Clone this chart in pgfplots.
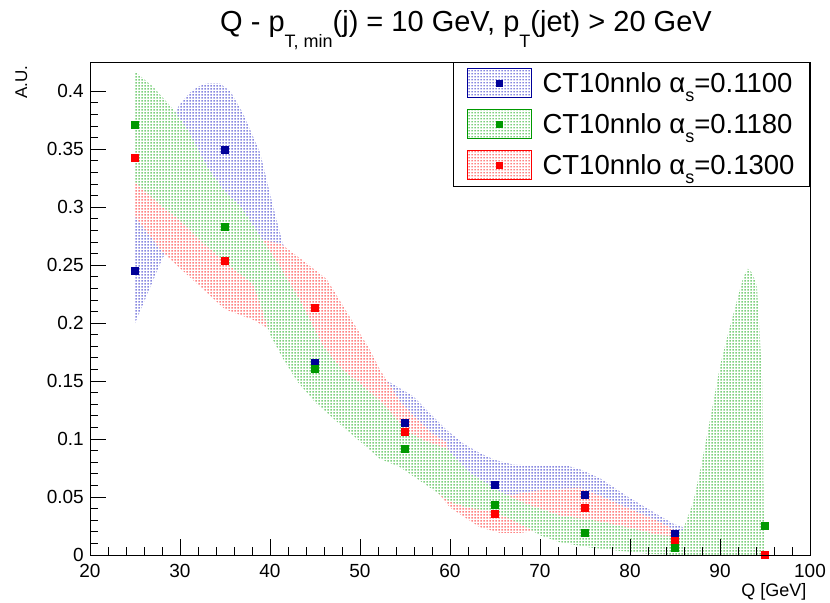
\documentclass[border=0pt]{standalone}
\usepackage{fontspec}
\setmainfont{Liberation Sans}
\usepackage{pgfplots}
\pgfplotsset{compat=1.18}
\usetikzlibrary{patterns}
\definecolor{cblue}{RGB}{0,0,153}
\definecolor{cgreen}{RGB}{0,153,0}
\definecolor{cred}{RGB}{255,0,0}
\definecolor{dblue}{RGB}{40,40,200}
\definecolor{dgreen}{RGB}{20,170,20}
\definecolor{dred}{RGB}{255,30,30}
\pgfdeclarepatternformonly{rootdots}{\pgfqpoint{0bp}{0bp}}{\pgfqpoint{3bp}{3bp}}{\pgfqpoint{3bp}{3bp}}{%
  \pgfpathrectangle{\pgfqpoint{0.65bp}{0.65bp}}{\pgfqpoint{1.7bp}{1.7bp}}\pgfusepath{fill}}
\newcommand\sub[1]{\raisebox{-0.32em}{\fontsize{18bp}{18bp}\selectfont #1}}
\newcommand\subT[1]{\raisebox{-0.52em}{\fontsize{18bp}{18bp}\selectfont #1}}
\begin{document}
\begin{tikzpicture}
\useasboundingbox (0,0) rectangle (830bp,603bp);
\begin{axis}[
  at={(90bp,48bp)}, anchor=south west,
  width=720bp, height=492bp, scale only axis,
  xmin=20, xmax=100, ymin=0, ymax=0.4245,
  xtick={20,30,40,50,60,70,80,90,100},
  ytick={0,0.05,0.1,0.15,0.2,0.25,0.3,0.35,0.4},
  minor x tick num=4, minor y tick num=4,
  tick align=inside, xtick pos=left, ytick pos=left,
  major tick length=16bp, minor tick length=8bp,
  every tick/.style={black, line width=1bp},
  axis line style={line width=1bp},
  axis on top,
  scaled y ticks=false,
  /pgf/number format/assume math mode=true,
  yticklabel style={/pgf/number format/fixed, /pgf/number format/precision=2,
    font=\fontsize{19bp}{21bp}\selectfont, inner sep=0pt, xshift=-6bp},
  xticklabel style={font=\fontsize{19bp}{21bp}\selectfont, inner sep=0pt, yshift=-9bp},
  clip mode=individual,
  legend style={at={(1,1)}, anchor=north east, yshift=1bp, draw=black, line width=1bp,
    fill=white, inner xsep=13bp, inner ysep=6bp, row sep=11bp,
    font=\fontsize{27.5bp}{30bp}\selectfont,
    /tikz/every odd column/.append style={column sep=9bp}},
  legend cell align=left,
  band/.style={draw=none, fill=white, forget plot,
    postaction={pattern=rootdots, pattern color=#1, opacity=0.55}},
  pts/.style={only marks, mark=square*, mark size=3.5bp, color=#1, forget plot},
]
% ---- blue band (alpha_s = 0.1100)
\addplot[band=dblue] coordinates {
 (25,0.300) (27,0.340) (28.5,0.370) (30,0.389) (31.1,0.399) (32,0.404) (33,0.407)
 (34.4,0.407) (35.6,0.400) (37,0.381) (38.9,0.347) (40.3,0.302) (41.4,0.269) (43,0.24)
 (45,0.21) (48,0.18) (51,0.160) (53.3,0.149) (55.9,0.137) (57.8,0.122) (59.6,0.108)
 (61.5,0.096) (63.3,0.088) (65,0.082) (67,0.078) (70,0.077) (73,0.077) (74.4,0.074)
 (76.7,0.066) (79.6,0.051) (82.6,0.037) (84.8,0.027) (85.9,0.024) (86.3,0.018)
 (85.5,0.010) (80,0.025) (75,0.036) (70,0.045) (65,0.047) (60,0.065) (55,0.088)
 (50,0.118) (45,0.15) (41,0.21) (38,0.25) (35,0.27) (32,0.275) (30,0.27) (28.1,0.257)
 (25,0.200)};
% ---- red band (alpha_s = 0.1300)
\addplot[band=dred] coordinates {
 (25,0.37) (30,0.335) (35,0.29) (38.9,0.272) (41.1,0.269) (43.5,0.255) (46.3,0.238)
 (48.5,0.21) (51.1,0.177) (52.2,0.160) (54.4,0.133) (56,0.120) (58,0.105) (59.6,0.097)
 (60,0.085) (62,0.066) (65,0.053) (67,0.052) (68.5,0.054) (70,0.056) (72.2,0.057)
 (74.4,0.058) (76.7,0.051) (79.6,0.041) (82.6,0.031) (84.4,0.024) (85,0.020)
 (85,0.007) (80,0.014) (75,0.021) (72,0.024) (67.8,0.019) (65.6,0.019) (63.3,0.024)
 (60,0.041) (58,0.060) (55,0.085) (50,0.122) (45,0.160) (41,0.190) (38.1,0.203)
 (35,0.212) (28.1,0.261) (25,0.292)};
% ---- green band (alpha_s = 0.1180)
\addplot[band=dgreen] coordinates {
 (25,0.417) (27,0.404) (29.2,0.385) (31,0.365) (33,0.335) (35,0.313) (36.7,0.301)
 (38.9,0.275) (41,0.250) (43.3,0.220) (45.9,0.180) (48,0.160) (50,0.148) (52.2,0.133)
 (54,0.118) (55,0.108) (57,0.099) (59.6,0.092) (62,0.072) (65,0.057) (67,0.049)
 (68.5,0.044) (72.2,0.034) (75.9,0.030) (79.6,0.024) (83.3,0.017) (85,0.016)
 (85.9,0.022) (87,0.045) (87.8,0.073) (88.9,0.117) (90,0.163) (91.1,0.197)
 (91.9,0.220) (92.6,0.240) (93.1,0.247) (93.6,0.243) (94.1,0.232) (94.4,0.192)
 (94.7,0.149) (94.8,0.090) (94.9,0.004)
 (94.9,0) (85,0) (82,0.001) (79.6,0.003) (75.9,0.006) (72.2,0.011) (70,0.017)
 (68.5,0.024) (67,0.030) (65,0.037) (62,0.041) (60,0.046) (57.8,0.058) (54.4,0.076)
 (52.2,0.083) (50,0.098) (47,0.118) (45,0.132) (43,0.150) (41.4,0.170) (40,0.190)
 (39,0.215) (38.1,0.234) (35.6,0.249) (32.6,0.269) (30,0.289) (27.8,0.302) (25,0.322)};
% ---- central values
\addplot[pts=cblue] coordinates {
 (25,0.245) (35,0.350) (45,0.166) (55,0.114) (65,0.061) (75,0.052) (85,0.018) (95,0.0)};
\addplot[pts=cred] coordinates {
 (25,0.343) (35,0.254) (45,0.213) (55,0.106) (65,0.036) (75,0.041) (85,0.012) (95,0.0)};
\addplot[pts=cgreen] coordinates {
 (25,0.371) (35,0.283) (45,0.161) (55,0.092) (65,0.043) (75,0.019) (85,0.006) (95,0.025)};
% ---- legend
\addlegendimage{legend image code/.code={
  \fill[white] (0bp,-14.5bp) rectangle (64bp,14.5bp);
  \fill[pattern=rootdots, pattern color=dblue, opacity=0.55] (0bp,-14.5bp) rectangle (64bp,14.5bp);
  \draw[draw=cblue, line width=1bp] (0bp,-14.5bp) rectangle (64bp,14.5bp);
  \fill[cblue] (29bp,-3bp) rectangle (35bp,3bp);}}
\addlegendentry{CT10nnlo α\sub{s}=0.1100}
\addlegendimage{legend image code/.code={
  \fill[white] (0bp,-14.5bp) rectangle (64bp,14.5bp);
  \fill[pattern=rootdots, pattern color=dgreen, opacity=0.55] (0bp,-14.5bp) rectangle (64bp,14.5bp);
  \draw[draw=cgreen, line width=1bp] (0bp,-14.5bp) rectangle (64bp,14.5bp);
  \fill[cgreen] (29bp,-3bp) rectangle (35bp,3bp);}}
\addlegendentry{CT10nnlo α\sub{s}=0.1180}
\addlegendimage{legend image code/.code={
  \fill[white] (0bp,-14.5bp) rectangle (64bp,14.5bp);
  \fill[pattern=rootdots, pattern color=dred, opacity=0.55] (0bp,-14.5bp) rectangle (64bp,14.5bp);
  \draw[draw=cred, line width=1bp] (0bp,-14.5bp) rectangle (64bp,14.5bp);
  \fill[cred] (29bp,-3bp) rectangle (35bp,3bp);}}
\addlegendentry{CT10nnlo α\sub{s}=0.1300}
\end{axis}
\node[anchor=base, font=\fontsize{29bp}{30bp}\selectfont] at (466bp,571bp)
  {Q - p\subT{T, min}(j) = 10 GeV, p\subT{T}(jet) > 20 GeV};
\node[rotate=90, anchor=base east, font=\fontsize{17bp}{17bp}\selectfont] at (27bp,541bp) {A.U.};
\node[anchor=base east, font=\fontsize{18bp}{18bp}\selectfont] at (810bp,7bp) {Q [GeV]};
\end{tikzpicture}
\end{document}
